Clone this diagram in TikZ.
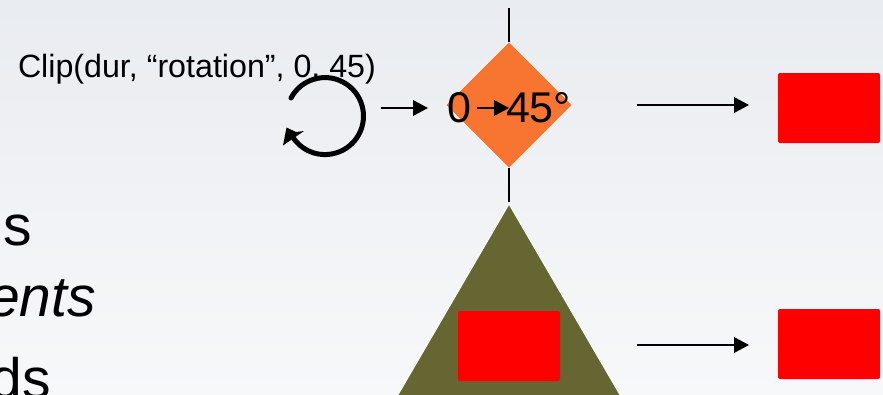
\documentclass[tikz,border=0pt]{standalone}
\usepackage{fontspec}
\setmainfont{Liberation Sans}
\usetikzlibrary{arrows.meta,shapes.geometric}
\definecolor{bgtop}{HTML}{E9ECF0}
\definecolor{bgbot}{HTML}{F7F8FA}
\definecolor{oran}{HTML}{F87431}
\definecolor{olive}{HTML}{666633}
\tikzset{
  conn/.style={line width=2pt,black},
  flow/.style={conn,-{Triangle[length=15pt,width=15.5pt]}},
  redbox/.style={fill=red,rounded corners=2pt,minimum width=102pt,minimum height=70pt,inner sep=0pt,outer sep=0pt},
  txt/.style={inner sep=0pt,outer sep=0pt,text=black},
  big/.style={txt,font=\fontsize{57}{57}\selectfont},
  small/.style={txt,font=\fontsize{32.2}{32.2}\selectfont},
  mid/.style={txt,font=\fontsize{43}{43}\selectfont}
}
\begin{document}
\begin{tikzpicture}[x=1pt,y=-1pt]
\useasboundingbox (0,0) rectangle (883,394);
\clip (0,0) rectangle (883,394);
\shade[top color=bgtop,bottom color=bgbot] (0,0) rectangle (883,394);
% triangle
\coordinate (apex) at (509,204);
\fill[olive,draw=white,line width=1pt] (apex) -- (509-131.5,430) -- (509+131.5,430) -- cycle;
% diamond
\node[diamond,shape aspect=1,fill=oran,draw=white,line width=1pt,minimum width=127pt,minimum height=127pt,inner sep=0pt,outer sep=0pt] (dia) at (509,105) {};
% boxes
\node[redbox] (boxa) at (829,108) {};
\node[redbox] (boxb) at (829,344) {};
\node[redbox] (boxc) at (509,346) {};
% texts
\node[small,anchor=base west] (cliptxt) at (18,77) {Clip(dur, “rotation”, 0, 45)};
\node[mid,anchor=base west] (zero) at (447,122) {0};
\node[mid,anchor=base west] (deg) at (506,122) {45°};
\node[big,anchor=base east] (s1) at (32,245) {s};
\node[big,anchor=base east] (s2) at (96,316) {\itshape ents};
\node[big,anchor=base east] (s3) at (51,398) {ds};
% rotation symbol
\draw[line width=5pt,line cap=round] (291,98) arc[start angle=208,end angle=505,radius=38.5];
\fill (283,145.5) -- (286.5,127.5) -- (296,132) -- (304,131) -- cycle;
% connectors
\coordinate (t1) at (509,8);
\coordinate (t2) at (509,42);
\coordinate (t3) at (509,168);
\coordinate (t4) at (509,202);
\draw[conn] (t1) -- (t2);
\draw[conn] (t3) -- (t4);
\coordinate (a1) at (381,108);
\coordinate (a2) at (428,108);
\draw[flow] (a1) -- (a2);
\coordinate (b1) at (477,108);
\coordinate (b2) at (509,108);
\draw[flow] (b1) -- (b2);
\coordinate (c1) at (637,105);
\coordinate (c2) at (749,105);
\draw[flow] (c1) -- (c2);
\coordinate (d1) at (637,345);
\coordinate (d2) at (749,345);
\draw[flow] (d1) -- (d2);
\end{tikzpicture}
\end{document}
